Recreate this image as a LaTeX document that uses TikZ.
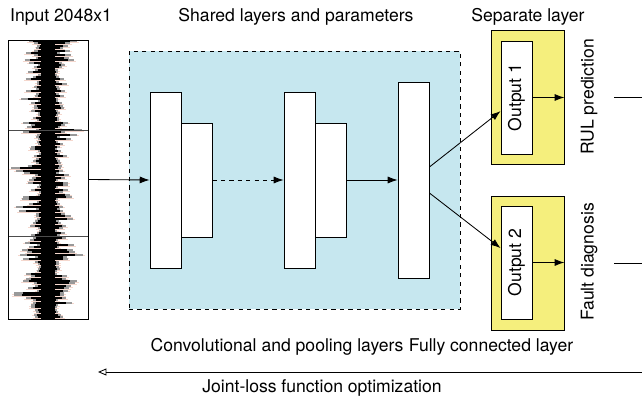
\documentclass[tikz,border=0pt]{standalone}
\usepackage{fontspec}
\setmainfont{TeX Gyre Heros}
\usetikzlibrary{arrows.meta}

\definecolor{sharedblue}{RGB}{198,231,239}
\definecolor{sepyellow}{RGB}{245,239,125}
\definecolor{tracered}{RGB}{245,215,205}

\tikzset{
  layer/.style={draw, fill=white, inner sep=0pt, minimum width=0.775cm},
  group/.style={draw, inner sep=0pt},
  flow/.style={-{Latex[length=7pt, width=5pt]}},
}

\begin{document}
\begin{tikzpicture}[x=0.025cm, y=-0.025cm, line width=0.6pt,
    font=\fontsize{12.5}{15}\selectfont]
  \useasboundingbox (0, 0) rectangle (642, 400);

  % Input signal
  \begin{scope}
    \clip (8, 40) rectangle (88, 319);
    \pgfmathsetseed{11}
    \foreach \y in {41, 43.4, ..., 318} {
      \pgfmathsetmacro{\wl}{7 + (3 + 28*rnd^2)*(0.7 + 0.3*sin(\y*9))}
      \pgfmathsetmacro{\wr}{7 + (3 + 28*rnd^2)*(0.7 + 0.3*sin(\y*9))}
      \draw [tracered, line width=0.02cm] (47-\wl-2, \y+1.2) -- (49+\wr+2, \y+1.2);
      \draw [black!40, line width=0.05cm] (47-\wl, \y) -- (49+\wr, \y);
      \draw [black, line width=0.05cm] (47-0.75*\wl, \y) -- (49+0.75*\wr, \y);
    }
    \fill (41, 40) rectangle (55, 319);
    \draw [black!70, line width=0.4pt] (8, 130) -- (88, 130);
    \draw [black!70, line width=0.4pt] (8, 236) -- (88, 236);
  \end{scope}
  \node [group, minimum width=2cm, minimum height=6.975cm] (signal) at (48, 179.5) {};

  % Shared layers
  \node [group, dashed, fill=sharedblue, minimum width=8.275cm,
    minimum height=6.45cm] (shared) at (294.5, 180) {};
  \node [layer, minimum height=4.4cm] (conva) at (165.5, 180) {};
  \node [layer, minimum height=2.85cm] (poola) at (196.5, 180) {};
  \node [layer, minimum height=4.4cm] (convb) at (299.5, 180) {};
  \node [layer, minimum height=2.85cm] (poolb) at (331, 180) {};
  \node [layer, minimum height=4.9cm] (fc) at (413.5, 180) {};

  \draw [flow] (signal.east) -- (conva.west);
  \draw [flow, dashed] (poola.east) -- (convb.west);
  \draw [flow] (poolb.east) -- (fc.west);

  % Separate layers
  \node [group, fill=sepyellow, minimum width=1.825cm, minimum height=3.35cm]
    (sepa) at (527.5, 97) {};
  \node [layer, minimum height=2.825cm] (outa) at (516.5, 97.5) {};
  \node [rotate=90] (outatext) at (outa) {Output 1};
  \node [group, fill=sepyellow, minimum width=1.825cm, minimum height=3.35cm]
    (sepb) at (527.5, 263) {};
  \node [layer, minimum height=2.825cm] (outb) at (516.5, 262.5) {};
  \node [rotate=90] (outbtext) at (outb) {Output 2};

  \draw [flow] ([yshift=0.325cm]fc.east) -- ([yshift=-0.34cm]outa.west);
  \draw [flow] ([yshift=-0.325cm]fc.east) -- ([yshift=0.36cm]outb.west);
  \draw [flow] (outa.east) -- (sepa.east |- outa.east);
  \draw [flow] (outb.east) -- (sepb.east |- outb.east);

  % Tasks
  \node [rotate=90] (rul) at (589, 97) {RUL prediction};
  \node [rotate=90] (fault) at (589, 262) {Fault diagnosis};
  \coordinate (rulend) at (642, 97);
  \coordinate (faultend) at (642, 263);
  \draw ([xshift=0.3cm]rul.south |- rulend) -- (rulend);
  \draw ([xshift=0.3cm]fault.south |- faultend) -- (faultend);

  % Labels
  \node (inputlabel) at (61, 17) {Input 2048x1};
  \node (sharedlabel) at (296, 17) {Shared layers and parameters};
  \node (seplabel) at (528, 17) {Separate layer};
  \node (convlabel) at (277, 347) {Convolutional and pooling layers};
  \node (fclabel) at (491, 347) {Fully connected layer};

  % Joint loss
  \coordinate (optstart) at (642, 372);
  \coordinate (optend) at (98, 372);
  \draw [-{Triangle[open, length=6pt, width=5pt]}] (optstart) -- (optend);
  \node (optlabel) at (322, 388) {Joint-loss function optimization};
\end{tikzpicture}
\end{document}
